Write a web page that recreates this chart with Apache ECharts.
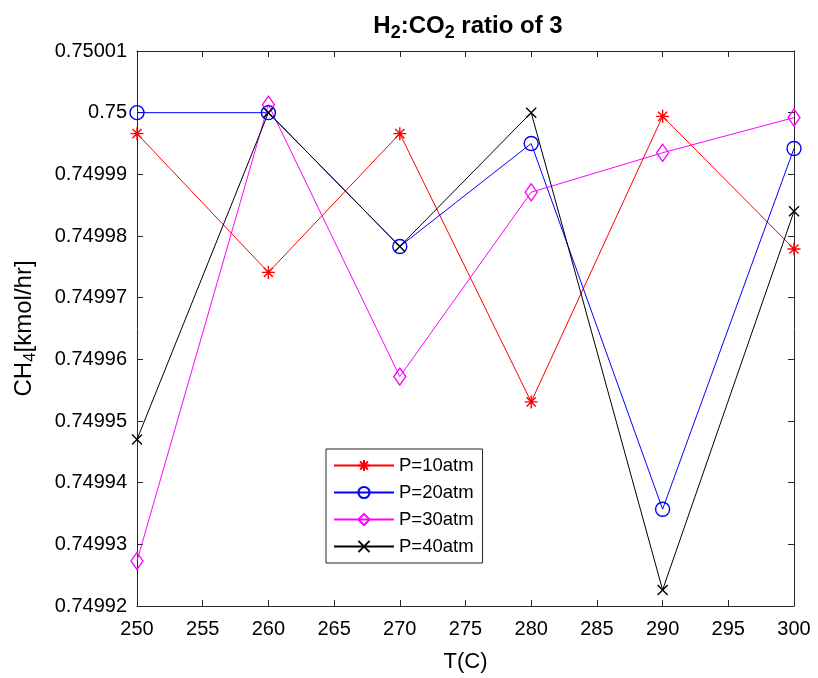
<!DOCTYPE html>
<html>
<head>
<meta charset="utf-8">
<script src="https://cdn.jsdelivr.net/npm/echarts@6/dist/echarts.min.js"></script>
<style>html,body{margin:0;padding:0;background:#fff;}#c{width:818px;height:678px;}</style>
</head>
<body>
<div id="c"></div>
<script>
var temps = [250, 260, 270, 280, 290, 300];
var p10 = [0.7499966, 0.7499741, 0.7499966, 0.7499531, 0.7499994, 0.7499779];
var p20 = [0.7500000, 0.7500000, 0.7499783, 0.7499950, 0.7499357, 0.7499942];
var p30 = [0.7499273, 0.7500013, 0.7499572, 0.7499871, 0.7499935, 0.7499992];
var p40 = [0.7499470, 0.7500000, 0.7499783, 0.7500000, 0.7499226, 0.7499840];
var seriesNames = ['P=10atm', 'P=20atm', 'P=30atm', 'P=40atm'];
var yTicksMin = 0.74992, yTicksMax = 0.75001, yStep = 0.00001;
var xMin = 250, xMax = 300, xStep = 5;

var FONT = 'Liberation Sans, Arial, sans-serif';
var AX = '#262626';
function pairs(arr){ return temps.map(function(t,i){ return [t, arr[i]]; }); }

var starPath = 'path://M0,-10L0,10M-10,0L10,0M-7,-7L7,7M-7,7L7,-7';
var xPath = 'path://M-10,-10L10,10M-10,10L10,-10';

function mk(name, data, color, symbol, size){
  return {
    name: name, type: 'line', data: pairs(data),
    symbol: symbol, symbolSize: size,
    lineStyle: { color: color, width: 1 },
    itemStyle: { color: 'rgba(0,0,0,0)', borderColor: color, borderWidth: 1.4 },
    emphasis: { disabled: true },
    animation: false
  };
}

var chart = echarts.init(document.getElementById('c'), null, {renderer: 'canvas'});
var axisCommon = {
  axisLine: { show: true, lineStyle: { color: AX, width: 1 } },
  axisTick: { show: true, inside: true, length: 6, lineStyle: { color: AX } },
  splitLine: { show: false }
};
chart.setOption({
  animation: false,
  backgroundColor: '#fff',
  title: {
    text: '{a|H}{s|2}{a|:CO}{s|2}{a| ratio of 3}',
    left: 463, top: 5, textAlign: 'center',
    textStyle: {
      rich: {
        a: { fontFamily: FONT, fontSize: 24, fontWeight: 'bold', color: '#000', lineHeight: 32, verticalAlign: 'middle' },
        s: { fontFamily: FONT, fontSize: 18, fontWeight: 'bold', color: '#000', lineHeight: 14, verticalAlign: 'bottom' }
      }
    }
  },
  grid: { left: 137, right: 24, top: 51, bottom: 70, containLabel: false },
  legend: {
    orient: 'vertical', left: 326, top: 449,
    data: seriesNames,
    itemWidth: 60, itemHeight: 14, itemGap: 8,
    padding: [7, 9, 7, 7],
    backgroundColor: '#fff', borderColor: AX, borderWidth: 1, borderRadius: 0,
    textStyle: { fontFamily: FONT, fontSize: 18.5, color: '#000' }
  },
  xAxis: [
    Object.assign({
      type: 'value', min: xMin, max: xMax, interval: xStep, position: 'bottom',
      name: 'T(C)', nameLocation: 'middle', nameGap: 45,
      nameTextStyle: { fontFamily: FONT, fontSize: 22, color: '#000' },
      axisLabel: { fontFamily: FONT, fontSize: 20, color: '#000', margin: 13 }
    }, axisCommon),
    Object.assign({
      type: 'value', min: xMin, max: xMax, interval: xStep, position: 'top',
      axisLabel: { show: false }
    }, axisCommon)
  ],
  yAxis: [
    Object.assign({
      type: 'value', min: yTicksMin, max: yTicksMax, interval: yStep, position: 'left',
      name: '{a|CH}{s|4}{a|[kmol/hr]}', nameLocation: 'middle', nameGap: 98, nameRotate: 90,
      nameTextStyle: {
        rich: {
          a: { fontFamily: FONT, fontSize: 24, color: '#000', lineHeight: 30, verticalAlign: 'middle' },
          s: { fontFamily: FONT, fontSize: 17, color: '#000', lineHeight: 12, verticalAlign: 'bottom' }
        }
      },
      axisLabel: {
        fontFamily: FONT, fontSize: 20, color: '#000', margin: 10,
        formatter: function(v){ return String(parseFloat(v.toFixed(5))); }
      }
    }, axisCommon),
    Object.assign({
      type: 'value', min: yTicksMin, max: yTicksMax, interval: yStep, position: 'right',
      axisLabel: { show: false }
    }, axisCommon)
  ],
  series: [
    mk(seriesNames[0], p10, '#ff0000', starPath, 13),
    mk(seriesNames[1], p20, '#0000ff', 'circle', 14),
    mk(seriesNames[2], p30, '#ff00ff', 'diamond', [12, 17]),
    mk(seriesNames[3], p40, '#000000', xPath, 10)
  ]
});
</script>
</body>
</html>
